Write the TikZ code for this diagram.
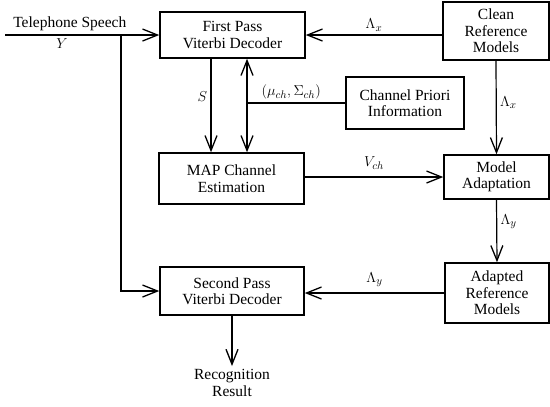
\documentclass[tikz,border=0pt]{standalone}
\usepackage{fontspec}
\setmainfont{Liberation Serif}
\usetikzlibrary{arrows.meta}

\begin{document}
\begin{tikzpicture}[x=1pt,y=-1pt,>={Straight Barb[length=15pt,width=12pt,line width=1.3pt]},
  font=\fontsize{15.5}{16.5}\selectfont,
  blk/.style={draw,line width=1.5pt,align=center,inner sep=0pt},
  conn/.style={line width=1.2pt}]
  \useasboundingbox (0,0) rectangle (550,407);
  % blocks
  \node[blk,minimum width=145,minimum height=46] (fp) at (232.5,35) {First Pass\\Viterbi Decoder};
  \node[blk,minimum width=106,minimum height=58] (clean) at (496,31) {Clean\\Reference\\Models};
  \node[blk,minimum width=118,minimum height=52] (chan) at (405,103) {Channel Priori\\Information};
  \node[blk,minimum width=145,minimum height=51] (map) at (231.5,178.5) {MAP Channel\\Estimation};
  \node[blk,minimum width=105,minimum height=44] (adapt) at (496.5,177) {Model\\Adaptation};
  \node[blk,minimum width=144,minimum height=48] (sp) at (232,291) {Second Pass\\Viterbi Decoder};
  \node[blk,minimum width=104,minimum height=60] (adref) at (497,293) {Adapted\\Reference\\Models};
  \node[align=center,anchor=north] (res) at (232,366) {Recognition\\Result};
  % helper points
  \coordinate (src) at (5,35);
  \coordinate (bend) at (121,0);
  \coordinate (sx) at (211,0);
  \coordinate (px) at (247,0);
  % connectors
  \draw[conn,->] (src) -- node[above,pos=0.42]{Telephone Speech} node[below,pos=0.37]{$Y$} (fp.west);
  \draw[conn,->] (bend |- fp.west) |- (sp.west);
  \draw[conn,->] (clean.west |- fp.east) -- node[above]{$\Lambda_x$} (fp.east);
  \draw[conn,->] (fp.south -| sx) -- node[left,pos=0.4]{$S$} (map.north -| sx);
  \draw[conn,<->] (fp.south -| px) -- (map.north -| px);
  \draw[conn] (chan.west) -- node[above,pos=0.55]{$(\mu_{ch},\Sigma_{ch})$} (chan.west -| px);
  \draw[conn,->] (clean.south) -- node[right,pos=0.45]{$\Lambda_x$} (adapt.north);
  \draw[conn,->] (map.east |- adapt.west) -- node[above,yshift=4pt]{$V_{ch}$} (adapt.west);
  \draw[conn,->] (adapt.south) -- node[right,pos=0.35]{$\Lambda_y$} (adref.north);
  \draw[conn,->] (adref.west) -- node[above,yshift=2pt]{$\Lambda_y$} (sp.east |- adref.west);
  \draw[conn,->] (sp.south) -- (res.north);
\end{tikzpicture}
\end{document}
